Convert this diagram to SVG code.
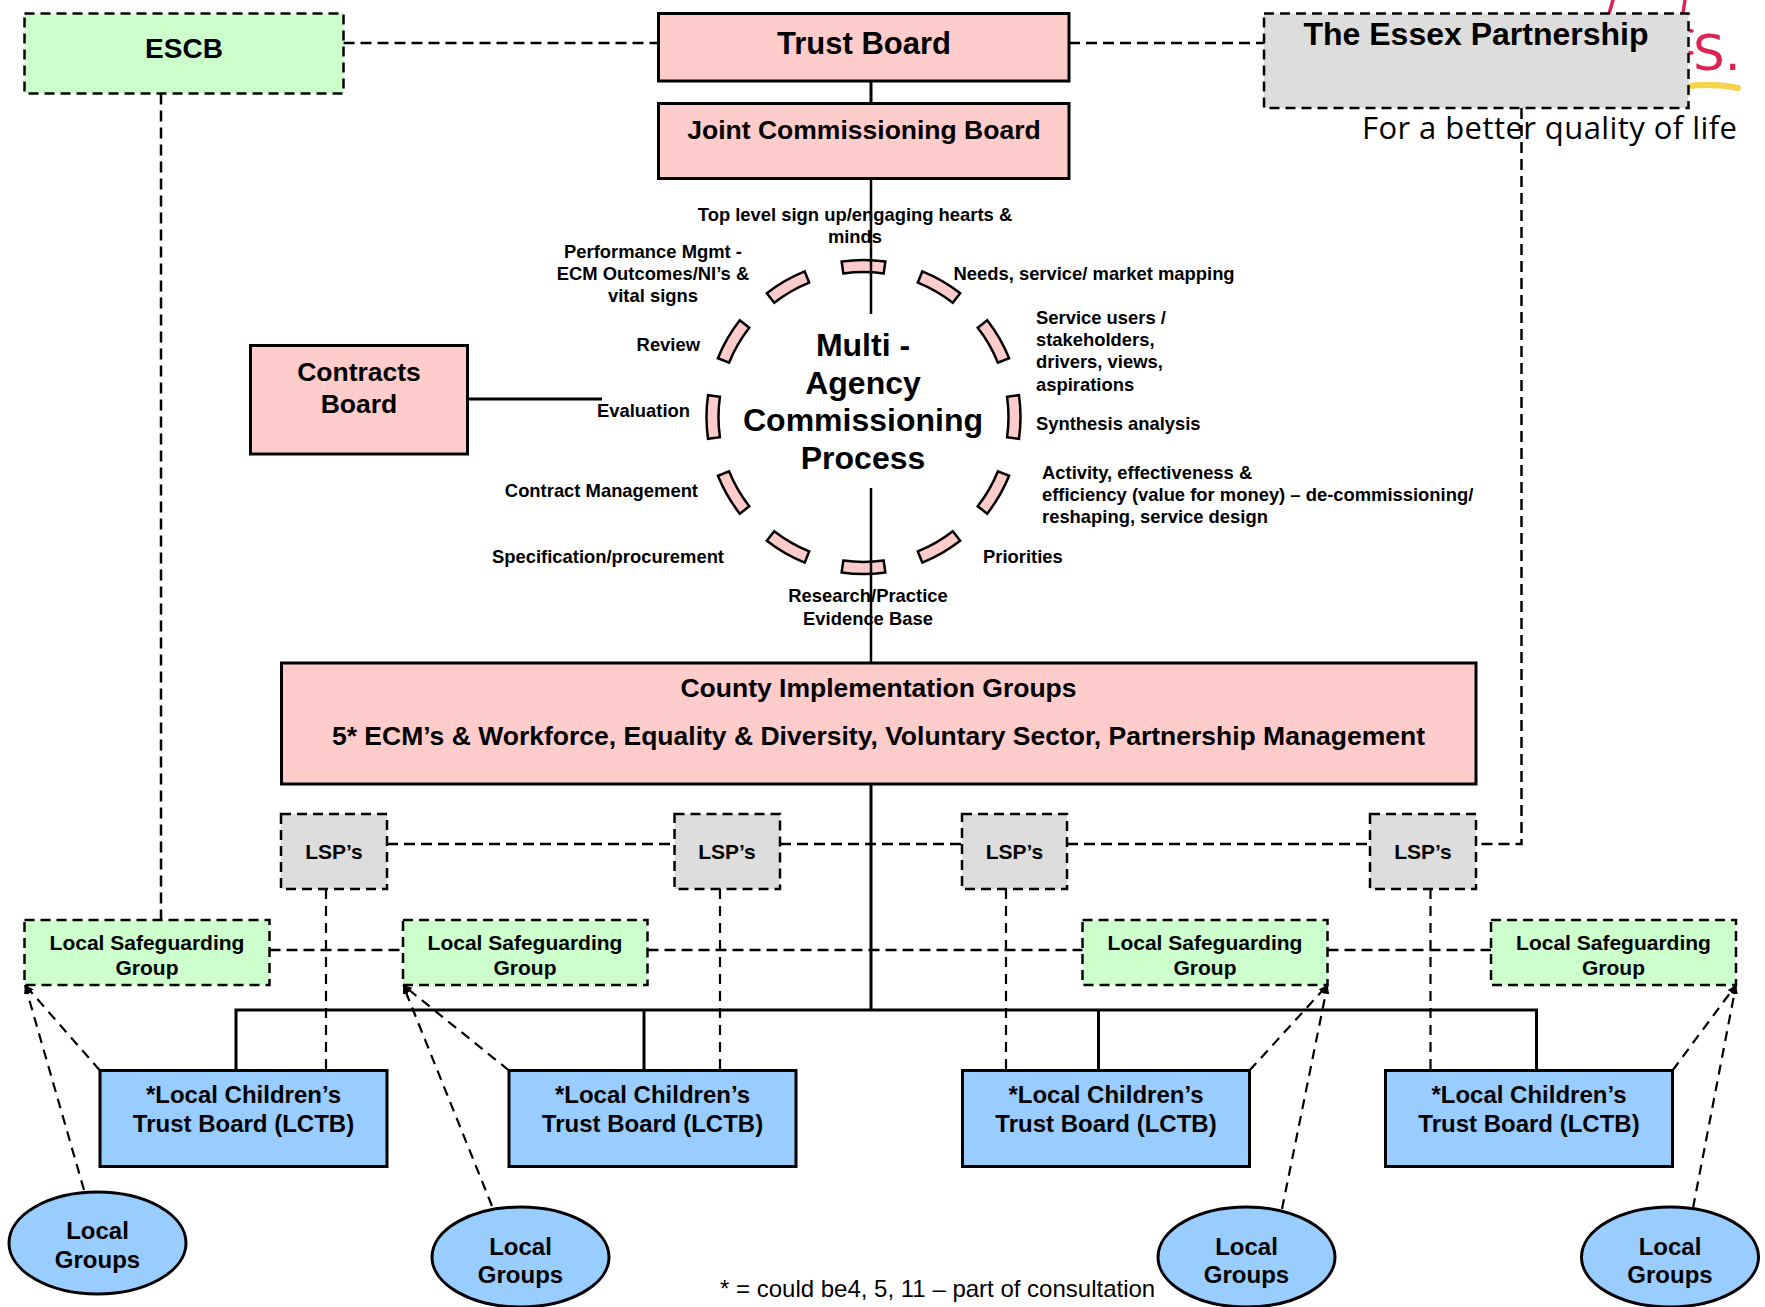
<svg xmlns="http://www.w3.org/2000/svg" width="1765" height="1307" viewBox="0 0 1765 1307">
<style>
text{font-family:"Liberation Sans",Arial,Helvetica,sans-serif;font-weight:bold;fill:#000}
.c{text-anchor:middle}
.e{text-anchor:end}
.t18{font-size:18.4px}
.t21{font-size:21px}
.t24{font-size:24px}
.t26{font-size:26.5px}
.pink{fill:#ffcccc;stroke:#000;stroke-width:3}
.blue{fill:#99ccff;stroke:#000;stroke-width:3}
.green{fill:#ccffcc;stroke:#000;stroke-width:2.5;stroke-dasharray:10 6}
.grey{fill:#dddddd;stroke:#000;stroke-width:2.5;stroke-dasharray:10 6}
.seg{fill:#ffcccc;stroke:#000;stroke-width:2.5}
.ln{fill:none;stroke:#000;stroke-width:3}
.dl{fill:none;stroke:#000;stroke-width:2.5;stroke-dasharray:11 6}
.dt{fill:none;stroke:#000;stroke-width:2.2;stroke-dasharray:10 7}
.reg{font-weight:normal}
.red{stroke:#dc2454;stroke-width:3.5;stroke-linecap:round;fill:none}
</style>
<defs>
<path id="seg" class="seg" d="M-21.85 -155.47 A157 157 0 0 1 21.85 -155.47 L20.18 -143.59 A145 145 0 0 0 -20.18 -143.59 Z"/>
<marker id="ah" viewBox="0 0 10 10" refX="10" refY="5" markerWidth="9" markerHeight="9" markerUnits="userSpaceOnUse" orient="auto"><path d="M0,1 L10,5 L0,9 z" fill="#000"/></marker>
</defs>
<rect x="0" y="0" width="1765" height="1307" fill="#fff"/>

<g id="logo-fragment">
<line class="red" x1="1613" y1="0" x2="1606" y2="24"/>
<line class="red" x1="1685" y1="0" x2="1683" y2="13"/>
<line class="red" x1="1686" y1="30" x2="1692" y2="31"/>
<line class="red" x1="1686" y1="52" x2="1692" y2="53"/>
<text x="1693" y="70" style="font-family:'DejaVu Sans',sans-serif;font-weight:normal;font-size:50px;fill:#dc2454">S.</text>
<path d="M1689 86 Q1712 83 1738 88" stroke="#f5d44f" stroke-width="6" fill="none" stroke-linecap="round"/>
</g>

<g id="escb"><rect class="green" x="24.5" y="13.5" width="319" height="80"/><text class="c" x="184" y="58" style="font-size:28px">ESCB</text></g>
<g id="trust-board"><rect class="pink" x="658.5" y="13.5" width="410.5" height="67.5"/><text class="c" x="864" y="54" style="font-size:31px">Trust Board</text></g>
<g id="jcb"><rect class="pink" x="658.5" y="103.5" width="410.5" height="75"/><text class="c t26" x="864" y="139">Joint Commissioning Board</text></g>
<g id="essex"><rect class="grey" x="1264" y="13.5" width="424.5" height="94.5"/><text class="c" x="1476" y="45" style="font-size:32px">The Essex Partnership</text></g>
<text x="1362" y="139" textLength="375" style="font-family:'Open Sans','Noto Sans',sans-serif;font-weight:normal;font-size:31px">For a better quality of life</text>

<g id="contracts-board"><rect class="pink" x="250.5" y="345.5" width="217" height="108.5"/><text class="c t26" x="359" y="381">Contracts</text><text class="c t26" x="359" y="413">Board</text></g>

<g id="labels">
<text class="c t18" x="855" y="221">Top level sign up/engaging hearts &amp;</text>
<text class="c t18" x="855" y="243">minds</text>
<text class="c t18" x="653" y="258">Performance Mgmt -</text>
<text class="c t18" x="653" y="280">ECM Outcomes/NI’s &amp;</text>
<text class="c t18" x="653" y="302">vital signs</text>
<text class="t18" x="953.5" y="280">Needs, service/ market mapping</text>
<text class="t18" x="1036" y="323.5">Service users /</text>
<text class="t18" x="1036" y="346">stakeholders,</text>
<text class="t18" x="1036" y="368">drivers, views,</text>
<text class="t18" x="1036" y="390.5">aspirations</text>
<text class="t18" x="1036" y="429.5">Synthesis analysis</text>
<text class="t18" x="1042" y="478.5">Activity, effectiveness &amp;</text>
<text class="t18" x="1042" y="500.5">efficiency (value for money) – de-commissioning/</text>
<text class="t18" x="1042" y="523">reshaping, service design</text>
<text class="t18" x="983" y="563">Priorities</text>
<text class="c t18" x="868" y="602">Research/Practice</text>
<text class="c t18" x="868" y="624.5">Evidence Base</text>
<text class="e t18" x="724" y="563">Specification/procurement</text>
<text class="e t18" x="698" y="497">Contract Management</text>
<text class="e t18" x="690" y="417">Evaluation</text>
<text class="e t18" x="700" y="351">Review</text>
</g>

<g id="process">
<use href="#seg" transform="translate(863.5 417) rotate(0)"/>
<use href="#seg" transform="translate(863.5 417) rotate(30)"/>
<use href="#seg" transform="translate(863.5 417) rotate(60)"/>
<use href="#seg" transform="translate(863.5 417) rotate(90)"/>
<use href="#seg" transform="translate(863.5 417) rotate(120)"/>
<use href="#seg" transform="translate(863.5 417) rotate(150)"/>
<use href="#seg" transform="translate(863.5 417) rotate(180)"/>
<use href="#seg" transform="translate(863.5 417) rotate(210)"/>
<use href="#seg" transform="translate(863.5 417) rotate(240)"/>
<use href="#seg" transform="translate(863.5 417) rotate(270)"/>
<use href="#seg" transform="translate(863.5 417) rotate(300)"/>
<use href="#seg" transform="translate(863.5 417) rotate(330)"/>
<text class="c" x="863" y="356" style="font-size:32px">Multi -</text>
<text class="c" x="863" y="394" style="font-size:32px">Agency</text>
<text class="c" x="863" y="431" style="font-size:32px">Commissioning</text>
<text class="c" x="863" y="469" style="font-size:32px">Process</text>
</g>

<g id="county"><rect class="pink" x="281.5" y="663" width="1194.5" height="121"/><text class="c t26" x="878.5" y="697">County Implementation Groups</text><text class="c t26" x="878.5" y="745">5* ECM’s &amp; Workforce, Equality &amp; Diversity, Voluntary Sector, Partnership Management</text></g>

<g id="lsp1"><rect class="grey" x="281" y="814" width="106" height="75"/><text class="c t21" x="334" y="859">LSP’s</text></g>
<g id="lsp2"><rect class="grey" x="674.5" y="814" width="105.5" height="75"/><text class="c t21" x="727" y="859">LSP’s</text></g>
<g id="lsp3"><rect class="grey" x="962" y="814" width="105" height="75"/><text class="c t21" x="1014.5" y="859">LSP’s</text></g>
<g id="lsp4"><rect class="grey" x="1370" y="814" width="106" height="75"/><text class="c t21" x="1423" y="859">LSP’s</text></g>

<g id="lsg1"><rect class="green" x="24.5" y="920" width="245" height="65"/><text class="c t21" x="147" y="950">Local Safeguarding</text><text class="c t21" x="147" y="975">Group</text></g>
<g id="lsg2"><rect class="green" x="403" y="920" width="244.5" height="65"/><text class="c t21" x="525" y="950">Local Safeguarding</text><text class="c t21" x="525" y="975">Group</text></g>
<g id="lsg3"><rect class="green" x="1082.5" y="920" width="245" height="65"/><text class="c t21" x="1205" y="950">Local Safeguarding</text><text class="c t21" x="1205" y="975">Group</text></g>
<g id="lsg4"><rect class="green" x="1491" y="920" width="245" height="65"/><text class="c t21" x="1613.5" y="950">Local Safeguarding</text><text class="c t21" x="1613.5" y="975">Group</text></g>

<g id="lctb1"><rect class="blue" x="100" y="1070.5" width="287" height="96"/><text class="c t24" x="243.5" y="1103">*Local Children’s</text><text class="c t24" x="243.5" y="1132">Trust Board (LCTB)</text></g>
<g id="lctb2"><rect class="blue" x="509" y="1070.5" width="287" height="96"/><text class="c t24" x="652.5" y="1103">*Local Children’s</text><text class="c t24" x="652.5" y="1132">Trust Board (LCTB)</text></g>
<g id="lctb3"><rect class="blue" x="962.5" y="1070.5" width="287" height="96"/><text class="c t24" x="1106" y="1103">*Local Children’s</text><text class="c t24" x="1106" y="1132">Trust Board (LCTB)</text></g>
<g id="lctb4"><rect class="blue" x="1385.5" y="1070.5" width="287" height="96"/><text class="c t24" x="1529" y="1103">*Local Children’s</text><text class="c t24" x="1529" y="1132">Trust Board (LCTB)</text></g>

<g id="lg1"><ellipse class="blue" cx="97.5" cy="1243" rx="88.5" ry="51"/><text class="c t24" x="97.5" y="1239">Local</text><text class="c t24" x="97.5" y="1268">Groups</text></g>
<g id="lg2"><ellipse class="blue" cx="520.5" cy="1257" rx="88.5" ry="50"/><text class="c t24" x="520.5" y="1255">Local</text><text class="c t24" x="520.5" y="1283">Groups</text></g>
<g id="lg3"><ellipse class="blue" cx="1246.5" cy="1257" rx="88.5" ry="50"/><text class="c t24" x="1246.5" y="1255">Local</text><text class="c t24" x="1246.5" y="1283">Groups</text></g>
<g id="lg4"><ellipse class="blue" cx="1670" cy="1257" rx="88.5" ry="50"/><text class="c t24" x="1670" y="1255">Local</text><text class="c t24" x="1670" y="1283">Groups</text></g>

<text class="reg" x="720" y="1297" style="font-size:24px">* = could be4, 5, 11 – part of consultation</text>

<g id="connectors">
<path class="ln" d="M871 81 V103.5"/>
<path class="ln" style="stroke-width:2.5" d="M871 178.5 V314"/>
<path class="ln" style="stroke-width:2.5" d="M871 488 V663"/>
<path class="ln" d="M871 784 V1010"/>
<path class="ln" d="M236 1070.5 V1010 H1536.5 V1070.5"/>
<path class="ln" d="M644 1010 V1070.5"/>
<path class="ln" d="M1098.5 1010 V1070.5"/>
<path class="ln" d="M467.5 399 H602"/>
<path class="dl" d="M343.5 43 H658.5"/>
<path class="dl" d="M1069 43 H1264"/>
<path class="dl" d="M161 93.5 V920"/>
<path class="dl" d="M1521.5 108 V844 H1476"/>
<path class="dl" d="M387 844 H674.5"/>
<path class="dl" d="M780 844 H962"/>
<path class="dl" d="M1067 844 H1370"/>
<path class="dl" d="M269.5 950 H403"/>
<path class="dl" d="M647.5 950 H1082.5"/>
<path class="dl" d="M1327.5 950 H1491"/>
<path class="dt" d="M326 889 V1070.5"/>
<path class="dt" d="M720 889 V1070.5"/>
<path class="dt" d="M1006 889 V1070.5"/>
<path class="dt" d="M1430.5 889 V1070.5"/>
<path class="dt" marker-end="url(#ah)" d="M100 1070.5 L25 985"/>
<path class="dt" marker-end="url(#ah)" d="M84 1190 L25 985"/>
<path class="dt" marker-end="url(#ah)" d="M509 1070.5 L403 985"/>
<path class="dt" marker-end="url(#ah)" d="M492 1206 L403 985"/>
<path class="dt" marker-end="url(#ah)" d="M1249.5 1070.5 L1327.5 985"/>
<path class="dt" marker-end="url(#ah)" d="M1282 1209 L1327.5 985"/>
<path class="dt" marker-end="url(#ah)" d="M1672.5 1070.5 L1736 985"/>
<path class="dt" marker-end="url(#ah)" d="M1693 1208 L1736 985"/>
</g>
</svg>
